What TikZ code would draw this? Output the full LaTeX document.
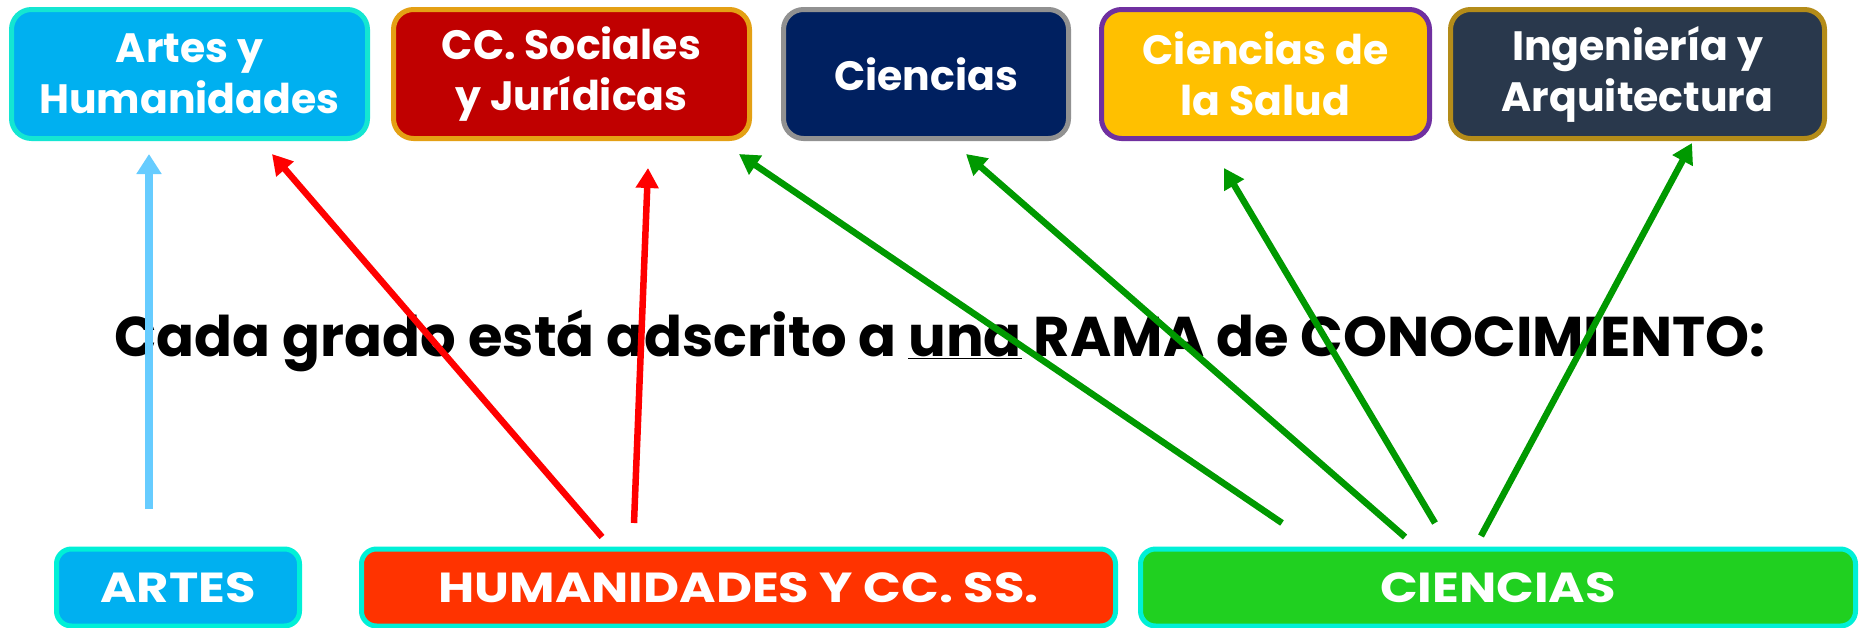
\documentclass[tikz,border=0pt]{standalone}
\usepackage{fontspec}
\setmainfont{Poppins}
\newfontfamily\widefont{Poppins}[FakeStretch=1.18]
\usetikzlibrary{arrows.meta}
\definecolor{cyanfill}{RGB}{0,176,240}
\definecolor{turq}{RGB}{20,230,210}
\definecolor{turqb}{RGB}{0,240,215}
\definecolor{redfill}{RGB}{192,0,0}
\definecolor{orangeb}{RGB}{228,160,20}
\definecolor{navyfill}{RGB}{0,32,96}
\definecolor{grayb}{RGB}{145,145,145}
\definecolor{goldfill}{RGB}{255,192,0}
\definecolor{purpleb}{RGB}{112,48,160}
\definecolor{slatefill}{RGB}{41,56,76}
\definecolor{oliveb}{RGB}{180,140,25}
\definecolor{humfill}{RGB}{255,51,0}
\definecolor{cienfill}{RGB}{32,208,32}
\definecolor{arrblue}{RGB}{102,204,255}
\definecolor{arrred}{RGB}{255,0,0}
\definecolor{arrgreen}{RGB}{0,153,0}
\begin{document}
\begin{tikzpicture}[x=1pt,y=-1pt,
  topbox/.style={draw, line width=5pt, rounded corners=20pt, text=white, align=center,
    inner sep=0pt, minimum height=129pt, font=\bfseries\fontsize{41}{51}\selectfont},
  botbox/.style={draw=turqb, line width=5pt, rounded corners=15pt, text=white, align=center,
    inner sep=0pt, minimum height=77pt, font=\widefont\bfseries\fontsize{42}{48}\selectfont},
  arrthin/.style={line width=6.5pt, -{Triangle[length=20pt,width=22pt]}},
  arrthick/.style={line width=8pt, -{Triangle[length=20pt,width=24pt]}}]
\useasboundingbox[fill=white] (0,0) rectangle (1860,627);
% top boxes
\node[topbox, fill=cyanfill, draw=turq, minimum width=356pt] (ah) at (189.5,74) {Artes y\\Humanidades};
\node[topbox, fill=redfill, draw=orangeb, minimum width=356pt] (cs) at (571.5,74) {CC. Sociales\\y Jurídicas};
\node[topbox, fill=navyfill, draw=grayb, minimum width=285pt] (ci) at (926,74) {Ciencias};
\node[topbox, fill=goldfill, draw=purpleb, minimum width=328pt] (cs2) at (1265.5,74) {Ciencias de\\la Salud};
\node[topbox, fill=slatefill, draw=oliveb, minimum width=374pt] (ia) at (1637.5,74) {Ingeniería y\\Arquitectura};
% bottom boxes
\node[botbox, fill=cyanfill, minimum width=243pt] (artes) at (178,587.5) {ARTES};
\node[botbox, fill=humfill, minimum width=754pt] (hum) at (738.5,587.5) {HUMANIDADES Y CC. SS.};
\node[botbox, fill=cienfill, minimum width=715pt] (cien) at (1498,587.5) {CIENCIAS};
% title
\node[anchor=base, inner sep=0pt, font=\bfseries\fontsize{56}{62}\selectfont] (title) at (940,356)
  {Cada grado está adscrito a \underline{una} RAMA de CONOCIMIENTO:};
% arrow end points
\coordinate (tA) at (149,509);  \coordinate (hA) at (149,154);
\coordinate (tR1) at (602,537); \coordinate (hR1) at (272,154);
\coordinate (tR2) at (634,523); \coordinate (hR2) at (648,168);
\coordinate (tG1) at (1282,523); \coordinate (hG1) at (739,154);
\coordinate (tG2) at (1405,537); \coordinate (hG2) at (966,154);
\coordinate (tG3) at (1435,523); \coordinate (hG3) at (1224,168);
\coordinate (tG4) at (1481,536); \coordinate (hG4) at (1692,143);
\draw[arrthick, arrblue] (tA) -- (hA);
\draw[arrthin, arrred] (tR1) -- (hR1);
\draw[arrthin, arrred] (tR2) -- (hR2);
\draw[arrthin, arrgreen] (tG1) -- (hG1);
\draw[arrthin, arrgreen] (tG2) -- (hG2);
\draw[arrthin, arrgreen] (tG3) -- (hG3);
\draw[arrthin, arrgreen] (tG4) -- (hG4);
\end{tikzpicture}
\end{document}
